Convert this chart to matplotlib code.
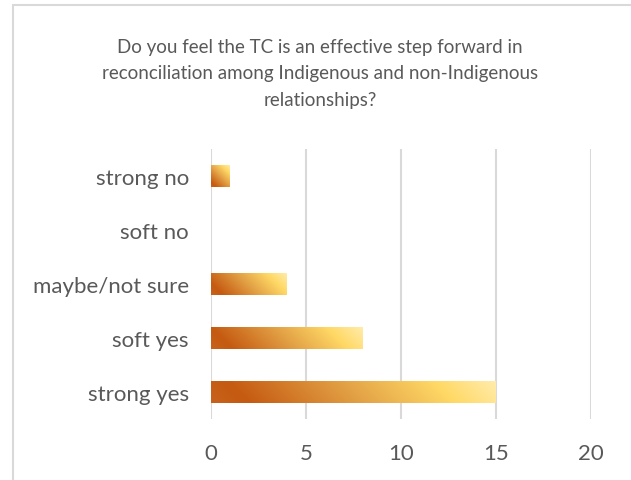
import numpy as np
import matplotlib
matplotlib.use("Agg")
import matplotlib.pyplot as plt
from matplotlib.colors import LinearSegmentedColormap
from matplotlib.patches import Rectangle

categories = ["strong yes", "soft yes", "maybe/not sure", "soft no", "strong no"]
values = [15, 8, 4, 0, 1]
xticks = [0, 5, 10, 15, 20]
title = ("Do you feel the TC is an effective step forward in\n"
         "reconciliation among Indigenous and non-Indigenous\n"
         "relationships?")

plt.rcParams['font.family'] = ['Lato', 'DejaVu Sans']
text_color = "#595959"

fig = plt.figure(figsize=(6.31, 4.81), dpi=100)
# outer chart border (only left/top visible)
fig.patches.append(Rectangle((13/631, -0.1), 1.2, 1 - 6/481 + 0.1, transform=fig.transFigure,
                             fill=False, edgecolor="#D9D9D9", linewidth=1.5))
ax = fig.add_axes([211/631, 1 - 420/481, 380/631, 270/481])

cmap = LinearSegmentedColormap.from_list("grad", [
    (0.0, "#C8621B"), (0.12, "#C55A11"), (0.5, "#E3A246"),
    (0.8, "#FFD966"), (1.0, "#FFEBAA")])

y = np.arange(len(categories))
bars = ax.barh(y, values, height=0.4, color="none", edgecolor="none", zorder=2)

ax.set_xlim(0, 20)
ax.set_ylim(-0.5, len(categories) - 0.5)

# pixel scales for gradient direction
px_per_x = 380 / 20
px_per_y = 270 / len(categories)
for b in bars:
    w = b.get_width()
    if w <= 0:
        continue
    h = b.get_height()
    W, H = w * px_per_x, h * px_per_y
    nx, ny = 200, 40
    u = np.linspace(0, 1, nx)[None, :]
    v = np.linspace(0, 1, ny)[:, None]  # 0 at top
    t = (u * W + v * H) / (W + H)
    x0, y0 = b.get_x(), b.get_y()
    im = ax.imshow(t, cmap=cmap, vmin=0, vmax=1, aspect="auto",
                   extent=(x0, x0 + w, y0 + h, y0), origin="upper",
                   interpolation="bilinear", zorder=2)
    im.set_clip_path(b)

ax.set_xticks(xticks)
ax.set_yticks(y)
ax.set_yticklabels(categories)
ax.xaxis.grid(True, color="#D9D9D9", linewidth=1.5, zorder=0)
ax.set_axisbelow(True)
for s in ax.spines.values():
    s.set_visible(False)
ax.tick_params(axis="both", length=0, labelsize=16, colors=text_color)
ax.tick_params(axis="x", pad=17)
ax.tick_params(axis="y", pad=16)

fig.text(0.507, 1 - 74/481, title, ha="center", va="center", fontsize=13.5,
         color=text_color, linespacing=1.68)

fig.savefig("out.png", dpi=100)
